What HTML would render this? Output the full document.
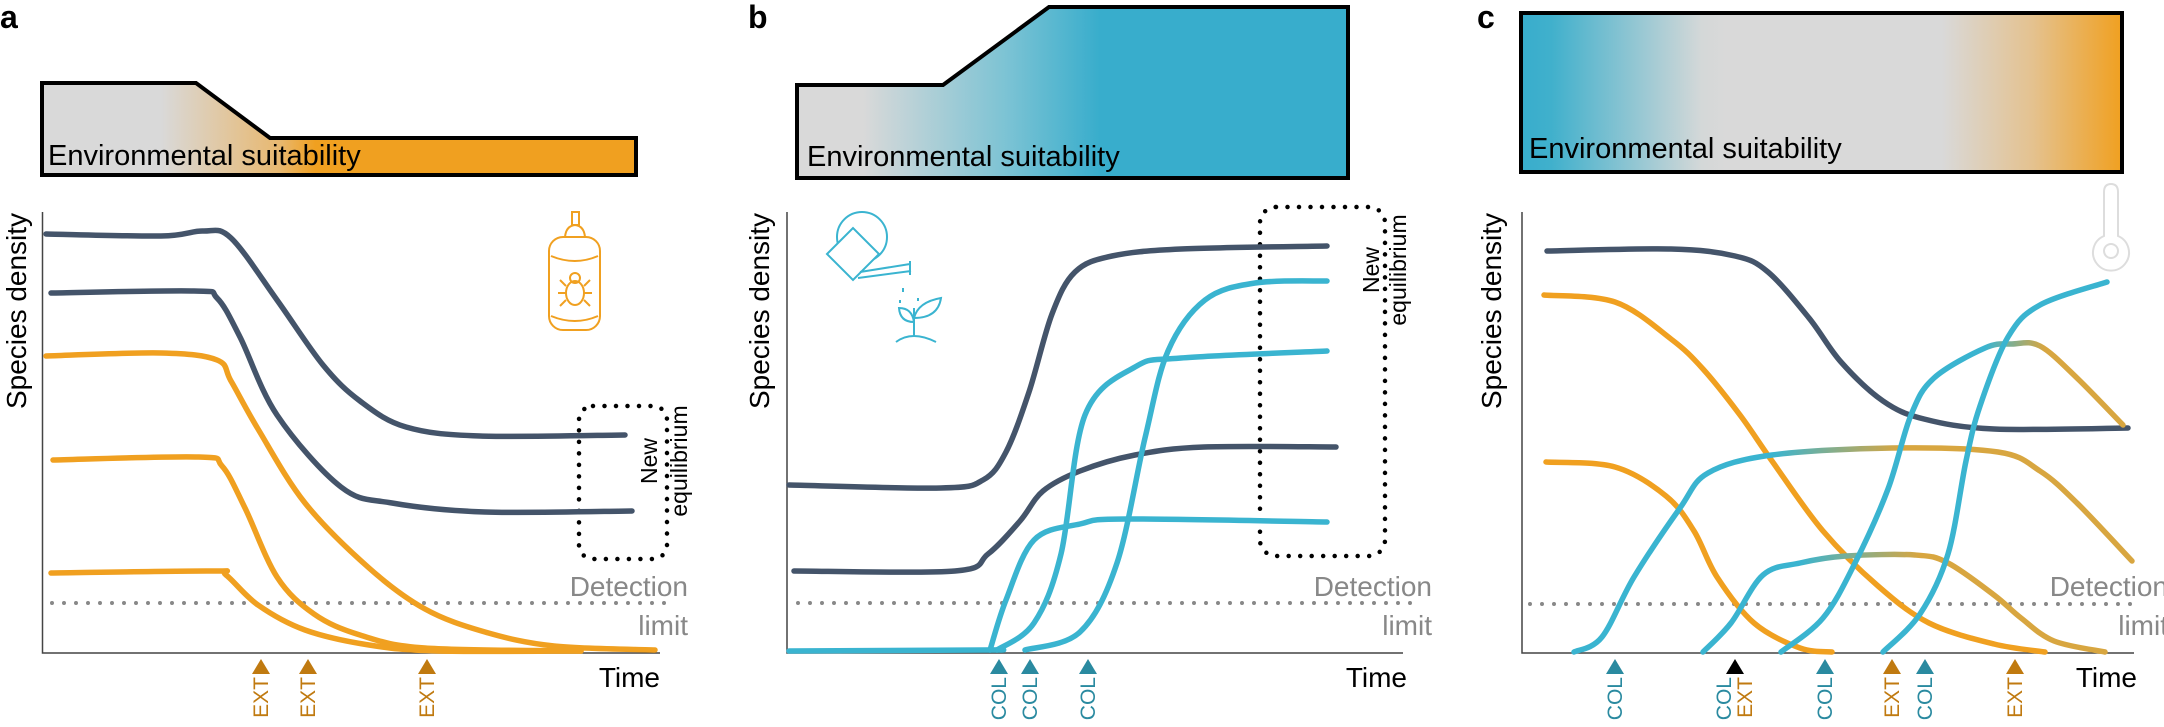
<!DOCTYPE html>
<html><head><meta charset="utf-8">
<style>
html,body{margin:0;padding:0;background:#fff;}
svg{display:block;font-family:"Liberation Sans",sans-serif;}
</style></head>
<body>
<svg id="s" width="2164" height="727" viewBox="0 0 2164 727" xmlns="http://www.w3.org/2000/svg">
<defs>
<linearGradient id="ga" gradientUnits="userSpaceOnUse" x1="42" y1="0" x2="636" y2="0">
<stop offset="0" stop-color="#d9d9d9"/><stop offset="0.2" stop-color="#d9d9d9"/><stop offset="0.4" stop-color="#e8b870"/><stop offset="0.46" stop-color="#f0a020"/><stop offset="1" stop-color="#f0a020"/></linearGradient>
<linearGradient id="gb" gradientUnits="userSpaceOnUse" x1="797" y1="0" x2="1348" y2="0">
<stop offset="0" stop-color="#d9d9d9"/><stop offset="0.12" stop-color="#d9d9d9"/><stop offset="0.38" stop-color="#7cc3d4"/><stop offset="0.55" stop-color="#38adcc"/><stop offset="1" stop-color="#38adcc"/></linearGradient>
<linearGradient id="gc" gradientUnits="userSpaceOnUse" x1="1521" y1="0" x2="2122" y2="0">
<stop offset="0" stop-color="#38adcc"/><stop offset="0.05" stop-color="#40b0cc"/><stop offset="0.3" stop-color="#d4d8d8"/><stop offset="0.34" stop-color="#d9d9d9"/><stop offset="0.7" stop-color="#d9d9d9"/><stop offset="0.85" stop-color="#e4c290"/><stop offset="1" stop-color="#f0a020"/></linearGradient>
<linearGradient id="t1" gradientUnits="userSpaceOnUse" x1="1772" y1="0" x2="1900" y2="0"><stop offset="0" stop-color="#3ab4d0"/><stop offset="1" stop-color="#d8a640"/></linearGradient>
<linearGradient id="t2" gradientUnits="userSpaceOnUse" x1="1800" y1="0" x2="1920" y2="0"><stop offset="0" stop-color="#3ab4d0"/><stop offset="1" stop-color="#d8a640"/></linearGradient>
<linearGradient id="t3" gradientUnits="userSpaceOnUse" x1="1985" y1="0" x2="2045" y2="0"><stop offset="0" stop-color="#3ab4d0"/><stop offset="1" stop-color="#d8a640"/></linearGradient>
</defs>

<!-- Panel a -->
<text x="0" y="28" font-size="32" font-weight="bold">a</text>
<path d="M42,83 L196,83 L270,138 L636,138 L636,175 L42,175 Z" fill="url(#ga)" stroke="#000" stroke-width="4" stroke-linejoin="miter"/>
<text x="48" y="165" font-size="29">Environmental suitability</text>
<path d="M42.5,212 V653 H660" fill="none" stroke="#444" stroke-width="1.5"/>
<text transform="translate(26,311) rotate(-90)" font-size="28" text-anchor="middle">Species density</text>
<text x="660" y="687" font-size="28" text-anchor="end">Time</text>
<line x1="52" y1="603" x2="665" y2="603" stroke="#888" stroke-width="4" stroke-dasharray="0 12" stroke-linecap="round"/>
<text x="688" y="596" font-size="28" fill="#888" text-anchor="end">Detection</text>
<text x="688" y="635" font-size="28" fill="#888" text-anchor="end">limit</text>
<rect x="579" y="406" width="88" height="153" rx="14" fill="none" stroke="#000" stroke-width="4.5" stroke-dasharray="0 11.5" stroke-linecap="round"/>
<text transform="translate(657,461) rotate(-90)" font-size="23" text-anchor="middle">New</text>
<text transform="translate(687,461) rotate(-90)" font-size="23" text-anchor="middle">equilibrium</text>
<!-- spray icon -->
<g fill="none" stroke="#f0a020" stroke-width="2">
<rect x="549" y="237" width="51" height="93" rx="14"/>
<path d="M551,256 Q575,266 598,256"/><path d="M551,316 Q575,326 598,316"/>
<path d="M565,237 Q566,226 575,225 Q584,226 585,237"/>
<rect x="572" y="212" width="7" height="13"/>
<ellipse cx="575" cy="293" rx="9" ry="12"/><circle cx="575" cy="278" r="5"/>
<path d="M560,280 l6,6 M590,280 l-6,6 M558,293 h8 M592,293 h-8 M560,306 l6,-6 M590,306 l-6,-6"/>
</g>
<g fill="#c07a10">
<path d="M261,659 l-9,15 h18 Z"/><path d="M308,659 l-9,15 h18 Z"/><path d="M427,659 l-9,15 h18 Z"/>
</g>
<g font-size="21" fill="#c07a10" text-anchor="end">
<text transform="translate(268,677) rotate(-90)">EXT</text>
<text transform="translate(315,677) rotate(-90)">EXT</text>
<text transform="translate(434,677) rotate(-90)">EXT</text>
</g>

<!-- Panel b -->
<text x="748" y="28" font-size="32" font-weight="bold">b</text>
<path d="M797,85 L943,85 L1049,7 L1348,7 L1348,178 L797,178 Z" fill="url(#gb)" stroke="#000" stroke-width="4"/>
<text x="807" y="166" font-size="29">Environmental suitability</text>
<path d="M787,212 V653 H1403" fill="none" stroke="#444" stroke-width="1.5"/>
<text transform="translate(769,311) rotate(-90)" font-size="28" text-anchor="middle">Species density</text>
<text x="1407" y="687" font-size="28" text-anchor="end">Time</text>
<line x1="798" y1="603" x2="1412" y2="603" stroke="#888" stroke-width="4" stroke-dasharray="0 12" stroke-linecap="round"/>
<text x="1432" y="596" font-size="28" fill="#888" text-anchor="end">Detection</text>
<text x="1432" y="635" font-size="28" fill="#888" text-anchor="end">limit</text>
<rect x="1260" y="207" width="125" height="349" rx="16" fill="none" stroke="#000" stroke-width="4.5" stroke-dasharray="0 11.5" stroke-linecap="round"/>
<text transform="translate(1379,270) rotate(-90)" font-size="23" text-anchor="middle">New</text>
<text transform="translate(1406,270) rotate(-90)" font-size="23" text-anchor="middle">equilibrium</text>
<!-- watering can -->
<g fill="none" stroke="#3ab4d0" stroke-width="2">
<circle cx="862" cy="237" r="25"/>
<path d="M827,254 L853,228 L879,254 L853,280 Z" fill="#fff"/>
<path d="M860,272 L910,264 M858,278 L911,271 M910,261 V275"/>
<path d="M903,288 v4 M900,300 v3 M918,298 v3"/>
<path d="M896,342 Q912,330 936,342 M914,336 V308 M914,322 Q900,322 899,308 Q912,308 914,322 M914,318 Q918,302 941,298 Q938,318 914,318"/>
</g>
<g fill="#2a8aa0">
<path d="M999,659 l-9,15 h18 Z"/><path d="M1030,659 l-9,15 h18 Z"/><path d="M1088,659 l-9,15 h18 Z"/>
</g>
<g font-size="21" fill="#2a8aa0" text-anchor="end">
<text transform="translate(1006,677) rotate(-90)">COL</text>
<text transform="translate(1037,677) rotate(-90)">COL</text>
<text transform="translate(1095,677) rotate(-90)">COL</text>
</g>

<!-- Panel c -->
<text x="1477" y="28" font-size="32" font-weight="bold">c</text>
<rect x="1521" y="13" width="601" height="159" fill="url(#gc)" stroke="#000" stroke-width="4"/>
<text x="1529" y="158" font-size="29">Environmental suitability</text>
<path d="M1522,212 V653 H2134" fill="none" stroke="#444" stroke-width="1.5"/>
<text transform="translate(1501,311) rotate(-90)" font-size="28" text-anchor="middle">Species density</text>
<text x="2137" y="687" font-size="28" text-anchor="end">Time</text>
<line x1="1530" y1="604" x2="2137" y2="604" stroke="#888" stroke-width="4" stroke-dasharray="0 12" stroke-linecap="round"/>
<text x="2168" y="596" font-size="28" fill="#888" text-anchor="end">Detection</text>
<text x="2168" y="635" font-size="28" fill="#888" text-anchor="end">limit</text>
<g fill="none" stroke="#ddd" stroke-width="2">
<path d="M2104,236 V192 Q2104,184 2111,184 Q2118,184 2118,192 V236 A18,18 0 1 1 2104,236 Z"/>
<circle cx="2111" cy="251" r="7"/>
</g>
<path d="M1615,659 l-9,15 h18 Z" fill="#2a8aa0"/>
<path d="M1735,659 l-9,15 h18 Z" fill="#000"/>
<path d="M1825,659 l-9,15 h18 Z" fill="#2a8aa0"/>
<path d="M1892,659 l-9,15 h18 Z" fill="#c07a10"/>
<path d="M1925,659 l-9,15 h18 Z" fill="#2a8aa0"/>
<path d="M2015,659 l-9,15 h18 Z" fill="#c07a10"/>
<g font-size="21" text-anchor="end">
<text transform="translate(1622,677) rotate(-90)" fill="#2a8aa0">COL</text>
<text transform="translate(1731,677) rotate(-90)" fill="#2a8aa0">COL</text>
<text transform="translate(1752,677) rotate(-90)" fill="#c07a10">EXT</text>
<text transform="translate(1832,677) rotate(-90)" fill="#2a8aa0">COL</text>
<text transform="translate(1899,677) rotate(-90)" fill="#c07a10">EXT</text>
<text transform="translate(1932,677) rotate(-90)" fill="#2a8aa0">COL</text>
<text transform="translate(2022,677) rotate(-90)" fill="#c07a10">EXT</text>
</g>
<g id="curves" fill="none" stroke-width="5.5" stroke-linecap="round" stroke-linejoin="round"></g>
</svg>
<script>
var D="#44546a",O="#f0a020",T="#3ab4d0";
var C=[
[D,[[46,234],[161,236],[203,231],[231,238],[277,300],[323,365],[360,401],[406,427],[480,436],[625,435]]],
[D,[[51,293],[194,291],[217,298],[240,337],[277,415],[341,487],[392,503],[485,512],[632,511]]],
[O,[[46,356],[161,353],[217,360],[231,381],[258,429],[305,503],[369,568],[425,609],[485,632],[554,646],[655,650]]],
[O,[[53,460],[198,457],[222,466],[245,508],[277,577],[314,614],[360,635],[425,648],[581,651]]],
[O,[[51,573],[212,571],[226,575],[258,605],[305,630],[369,645],[438,651],[581,651]]],
[D,[[789,485],[941,488],[983,480],[1006,452],[1029,392],[1052,314],[1075,272],[1112,256],[1181,249],[1327,246]]],
[D,[[794,571],[955,571],[988,554],[1020,521],[1043,491],[1080,471],[1135,455],[1204,447],[1336,447]]],
[T,[[789,651],[983,650],[1000,650]]],
[T,[[990,650],[1006,600],[1034,540],[1080,524],[1126,519],[1327,522]]],
[T,[[997,650],[1034,623],[1061,554],[1085,415],[1135,367],[1181,358],[1327,351]]],
[T,[[1025,650],[1080,632],[1117,563],[1145,438],[1168,351],[1205,300],[1255,283],[1327,281]]],
[D,[[1547,251],[1671,249],[1735,256],[1768,272],[1809,318],[1841,362],[1883,401],[1924,419],[1994,429],[2128,428]]],
[O,[[1544,295],[1615,302],[1671,339],[1703,369],[1740,415],[1772,461],[1823,531],[1878,586],[1929,623],[1994,644],[2045,652]]],
[O,[[1546,462],[1615,467],[1666,496],[1694,531],[1717,577],[1754,623],[1800,648],[1832,652]]],
["url(#t1)",[[1574,652],[1602,637],[1634,577],[1680,508],[1708,473],[1772,455],[1892,448],[1998,452],[2040,471],[2077,503],[2132,561]]],
["url(#t2)",[[1703,652],[1731,623],[1763,575],[1800,563],[1846,556],[1915,555],[1948,563],[1994,595],[2021,618],[2054,641],[2105,652]]],
["url(#t3)",[[1781,652],[1823,618],[1855,563],[1888,489],[1911,415],[1934,378],[1985,348],[2012,344],[2040,346],[2077,378],[2123,425]]],
[T,[[1883,652],[1920,614],[1948,554],[1966,461],[1980,406],[2008,337],[2040,305],[2107,282]]]
];
function path(p){var d="M"+p[0][0]+","+p[0][1];for(var i=0;i<p.length-1;i++){var a=p[i-1]||p[i],b=p[i],c=p[i+1],e=p[i+2]||c;
var c1=[b[0]+(c[0]-a[0])/6,b[1]+(c[1]-a[1])/6],c2=[c[0]-(e[0]-b[0])/6,c[1]-(e[1]-b[1])/6];
d+=" C"+c1[0].toFixed(1)+","+c1[1].toFixed(1)+" "+c2[0].toFixed(1)+","+c2[1].toFixed(1)+" "+c[0]+","+c[1];}return d;}
var g=document.getElementById("curves");
C.forEach(function(c){var e=document.createElementNS("http://www.w3.org/2000/svg","path");e.setAttribute("d",path(c[1]));e.setAttribute("stroke",c[0]);g.appendChild(e);});
</script>
</body></html>
